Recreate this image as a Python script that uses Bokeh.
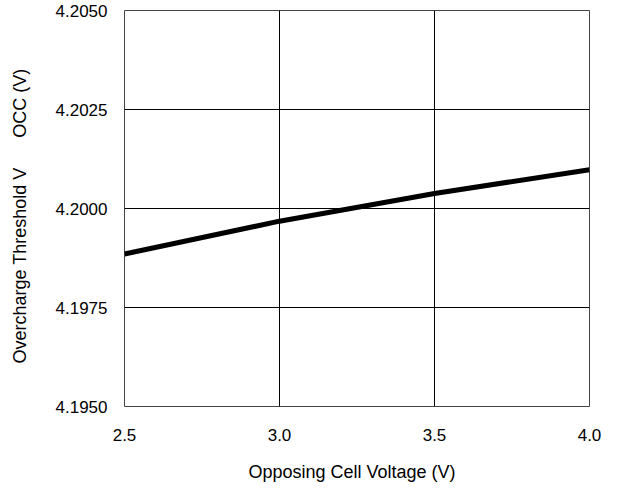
from bokeh.plotting import figure
from bokeh.embed import file_html
from bokeh.resources import INLINE
from bokeh.models import FixedTicker, NumeralTickFormatter, Range1d

# Data
opposing_cell_voltage = [2.5, 3.0, 3.5, 4.0]
overcharge_threshold = [4.19885, 4.19968, 4.20038, 4.20098]
x_ticks = [2.5, 3.0, 3.5, 4.0]
y_ticks = [4.1950, 4.1975, 4.2000, 4.2025, 4.2050]

FONT = "Liberation Sans"

p = figure(width=609, height=484, output_backend="svg", toolbar_location=None,
           x_range=Range1d(2.5, 4.0), y_range=Range1d(4.195, 4.205),
           min_border_left=124, min_border_right=20, min_border_top=10, min_border_bottom=74)

p.line(opposing_cell_voltage, overcharge_threshold, line_color="black", line_width=5)

p.outline_line_color = "#444444"
p.outline_line_width = 1

for ax in (p.xaxis[0], p.yaxis[0]):
    ax.axis_line_color = None
    ax.major_tick_line_color = None
    ax.minor_tick_line_color = None
    ax.major_label_text_font = FONT
    ax.major_label_text_font_size = "17px"
    ax.major_label_text_color = "black"
    ax.axis_label_text_font = FONT
    ax.axis_label_text_font_size = "18px"
    ax.axis_label_text_font_style = "normal"
    ax.axis_label_text_color = "black"

p.xaxis.ticker = FixedTicker(ticks=x_ticks)
p.yaxis.ticker = FixedTicker(ticks=y_ticks)
p.xaxis.formatter = NumeralTickFormatter(format="0.0")
p.yaxis.formatter = NumeralTickFormatter(format="0.0000")
p.xaxis.major_label_standoff = 16
p.yaxis.major_label_standoff = 11
p.xaxis.axis_label = "Opposing Cell Voltage (V)\u00a0\u00a0"
p.yaxis.axis_label = "Overcharge Threshold V\u00a0\u00a0\u00a0\u00a0\u00a0\u00a0OCC (V)\u00a0\u00a0\u00a0"
p.xaxis.axis_label_standoff = 18
p.yaxis.axis_label_standoff = 23

p.xgrid.ticker = FixedTicker(ticks=x_ticks)
p.ygrid.ticker = FixedTicker(ticks=y_ticks)
p.grid.grid_line_color = "black"
p.grid.grid_line_width = 1
p.grid.grid_line_alpha = 1.0

open("out.html", "w").write(file_html(p, INLINE))
